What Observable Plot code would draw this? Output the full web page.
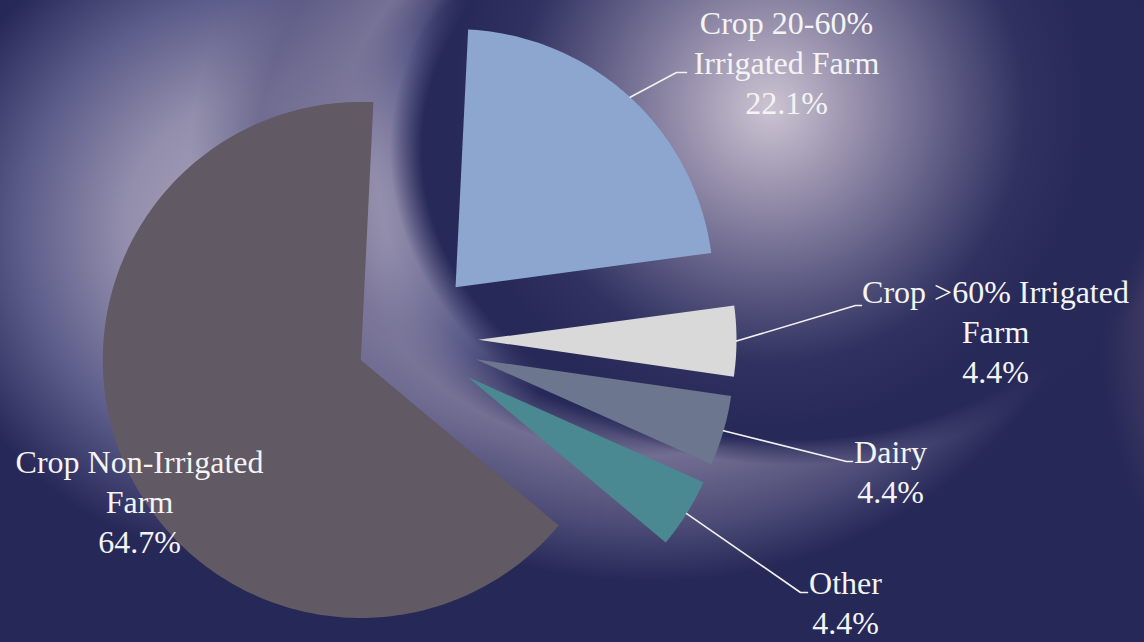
<!DOCTYPE html>
<html>
<head>
<meta charset="utf-8">
<script src="https://cdn.jsdelivr.net/npm/d3@7"></script>
<script src="https://cdn.jsdelivr.net/npm/@observablehq/plot@0.6"></script>
<style>
  html, body { margin: 0; padding: 0; background: #262858; }
  #chart {
    width: 1144px; height: 642px; position: relative; overflow: hidden;
    background:
      radial-gradient(circle at 770px 108px, rgba(204,196,210,1) 0px, rgba(162,154,180,0.95) 80px, rgba(112,108,146,0.78) 175px, rgba(62,62,108,0.4) 255px, rgba(38,40,88,0) 320px),
      radial-gradient(ellipse 400px 315px at 790px 150px, #262858 0%, #272959 92%, rgba(38,40,88,0) 100%),
      radial-gradient(ellipse 470px 420px at 650px 170px, rgba(38,40,88,0) 58%, rgba(122,117,152,0.9) 68%, rgba(96,93,134,0.7) 84%, rgba(38,40,88,0) 98%),
      radial-gradient(ellipse 230px 320px at 1330px 330px, rgba(72,66,104,0.9) 0%, rgba(66,60,100,0.8) 80%, rgba(38,40,88,0) 100%),
      radial-gradient(circle at 255px 230px, #aca6bd 0px, #938eac 130px, #5c5c8a 235px, rgba(38,40,88,0) 330px),
      #262858;
  }
  #chart svg { position: absolute; left: 0; top: 0; background: transparent; }
</style>
</head>
<body>
<div id="chart"></div>
<script>
// ---- data ----
const categories = ["Crop 20-60% Irrigated Farm", "Crop >60% Irrigated Farm", "Dairy", "Other", "Crop Non-Irrigated Farm"];
const shares = [22.1, 4.4, 4.4, 4.4, 64.7];
const labelLines = [["Crop 20-60%", "Irrigated Farm"], ["Crop >60% Irrigated", "Farm"], ["Dairy"], ["Other"], ["Crop Non-Irrigated", "Farm"]];

// ---- style / layout ----
const colors = ["#8ca6cf", "#d9d9d9", "#6c768e", "#4a8991", "#615963"];
const W = 1144, H = 642;
const center = [407, 339], R = 258, startDeg = 2.8;
const explode = [71, 71, 71, 71, 51];
const fontSize = 32, lineStep = 40;
const fontFamily = "Liberation Serif";
const labelLayout = [
  {x: 786, base: 33,  elbow: [676, 72],  end: [686, 72]},
  {x: 995, base: 302, elbow: [855, 305], end: [861, 305]},
  {x: 890, base: 462, elbow: [846, 461], end: [852, 461]},
  {x: 845, base: 593, elbow: [800, 592], end: [807, 592]},
  {x: 139, base: 472, elbow: null, end: null}
];

const rad = Math.PI / 180;
const arcs = d3.pie().sort(null).value(d => d)
  .startAngle(startDeg * rad).endAngle(startDeg * rad + 2 * Math.PI)(shares);

const slices = arcs.map((a, i) => {
  const mid = (a.startAngle + a.endAngle) / 2;
  const ax = center[0] + explode[i] * Math.sin(mid);
  const ay = center[1] - explode[i] * Math.cos(mid);
  const pts = [{x: ax, y: ay}];
  const n = Math.max(4, Math.ceil((a.endAngle - a.startAngle) / rad));
  for (let k = 0; k <= n; k++) {
    const t = a.startAngle + (a.endAngle - a.startAngle) * k / n;
    pts.push({x: ax + R * Math.sin(t), y: ay - R * Math.cos(t)});
  }
  return {name: categories[i], pts, rim: {x: ax + R * Math.sin(mid), y: ay - R * Math.cos(mid)}};
});

const textRows = [];
categories.forEach((c, i) => {
  const lines = [...labelLines[i], `${shares[i].toFixed(1)}%`];
  lines.forEach((t, k) => textRows.push({x: labelLayout[i].x, y: labelLayout[i].base + k * lineStep, text: t}));
});

const marks = [];
slices.forEach((s, i) => {
  marks.push(Plot.line(s.pts, {x: "x", y: "y", fill: colors[i], stroke: "none", curve: "linear-closed"}));
});
slices.forEach((s, i) => {
  const L = labelLayout[i];
  if (!L.elbow) return;
  const path = [s.rim, {x: L.elbow[0], y: L.elbow[1]}, {x: L.end[0], y: L.end[1]}];
  marks.push(Plot.line(path, {x: "x", y: "y", stroke: "#f2f2f2", strokeWidth: 1.6}));
});
marks.push(Plot.text(textRows, {
  x: "x", y: "y", text: "text", textAnchor: "middle", lineAnchor: "bottom",
  fontSize, fontFamily, fill: "#f4f4f4"
}));

const chart = Plot.plot({
  width: W, height: H,
  marginTop: 0, marginRight: 0, marginBottom: 0, marginLeft: 0,
  x: {domain: [0, W], range: [0, W], axis: null},
  y: {domain: [0, H], range: [0, H], axis: null},
  style: {background: "transparent", overflow: "visible"},
  marks
});
document.getElementById("chart").appendChild(chart);
</script>
</body>
</html>
